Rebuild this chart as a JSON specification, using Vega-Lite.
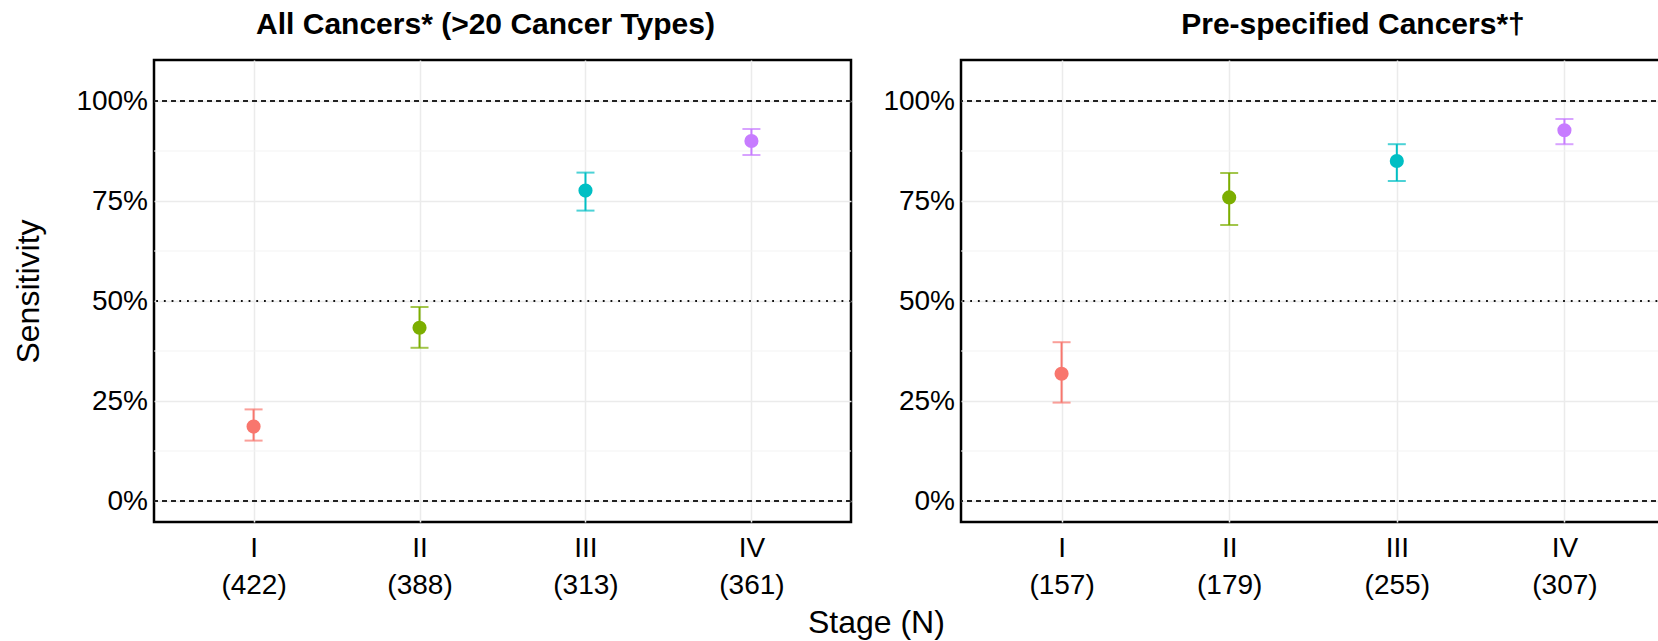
{
  "$schema": "https://vega.github.io/schema/vega-lite/v6.json",
  "padding": {"left": 11, "top": 8, "right": 0, "bottom": 0},
  "background": "white",
  "datasets": {
    "points": [
      {"panel": "all", "stage": "I", "label": "I (422)", "sens": 0.186, "lo": 0.151, "hi": 0.229},
      {"panel": "all", "stage": "II", "label": "II (388)", "sens": 0.433, "lo": 0.383, "hi": 0.485},
      {"panel": "all", "stage": "III", "label": "III (313)", "sens": 0.776, "lo": 0.726, "hi": 0.821},
      {"panel": "all", "stage": "IV", "label": "IV (361)", "sens": 0.900, "lo": 0.865, "hi": 0.930},
      {"panel": "pre", "stage": "I", "label": "I (157)", "sens": 0.318, "lo": 0.246, "hi": 0.397},
      {"panel": "pre", "stage": "II", "label": "II (179)", "sens": 0.759, "lo": 0.690, "hi": 0.820},
      {"panel": "pre", "stage": "III", "label": "III (255)", "sens": 0.850, "lo": 0.800, "hi": 0.892},
      {"panel": "pre", "stage": "IV", "label": "IV (307)", "sens": 0.927, "lo": 0.892, "hi": 0.955}
    ],
    "dashed": [{"y": 0}, {"y": 1}],
    "dotted": [{"y": 0.5}],
    "minor": [{"y": 0.125}, {"y": 0.375}, {"y": 0.625}, {"y": 0.875}]
  },
  "config": {
    "view": {"stroke": "black", "strokeWidth": 2.5},
    "font": "Liberation Sans",
    "axis": {
      "labelFont": "Liberation Sans",
      "labelColor": "black",
      "labelFontSize": 28,
      "ticks": false,
      "domain": false,
      "gridColor": "#EBEBEB",
      "gridWidth": 1.5,
      "titleFont": "Liberation Sans",
      "titleFontSize": 32,
      "titleFontWeight": "normal",
      "titleColor": "black"
    }
  },
  "title": {
    "text": "Stage (N)",
    "orient": "bottom",
    "anchor": "middle",
    "font": "Liberation Sans",
    "fontSize": 32,
    "fontWeight": "normal",
    "color": "black",
    "dx": 37,
    "offset": 8
  },
  "spacing": 27,
  "hconcat": [
    {
      "width": 697,
      "height": 462,
      "title": {"text": "All Cancers* (>20 Cancer Types)", "fontSize": 30, "fontWeight": "bold", "font": "Liberation Sans", "anchor": "middle", "frame": "group", "dx": -17, "offset": 20, "color": "black"},
      "layer": [
        {
          "data": {"name": "minor"},
          "mark": {"type": "rule", "color": "#F3F3F3", "strokeWidth": 1},
          "encoding": {"y": {"field": "y", "type": "quantitative", "scale": {"domain": [-0.0525, 1.1025], "nice": false, "zero": false},
            "axis": {"title": "Sensitivity", "values": [0, 0.25, 0.5, 0.75, 1], "format": ".0%", "grid": true, "labelPadding": 6.5, "titlePadding": 30}}}
        },
        {
          "data": {"name": "points"},
          "transform": [{"filter": "datum.panel == 'all'"}],
          "mark": {"type": "rule", "strokeWidth": 2},
          "encoding": {
            "x": {"field": "label", "type": "nominal", "sort": null, "scale": {"type": "point", "padding": 0.6},
                  "axis": {"title": null, "grid": true, "labelAngle": 0, "labelExpr": "split(datum.label, ' ')", "labelLineHeight": 37, "labelPadding": 12, "labelBaseline": "top"}},
            "y": {"field": "lo", "type": "quantitative", "title": "Sensitivity"},
            "y2": {"field": "hi"},
            "color": {"field": "stage", "type": "nominal", "scale": {"domain": ["I", "II", "III", "IV"], "range": ["#F8766D", "#7CAE00", "#00BFC4", "#C77CFF"]}, "legend": null}
          }
        },
        {
          "data": {"name": "points"},
          "transform": [{"filter": "datum.panel == 'all'"}],
          "mark": {"type": "tick", "orient": "horizontal", "size": 18, "thickness": 2},
          "encoding": {
            "x": {"field": "label", "type": "nominal", "sort": null},
            "y": {"field": "lo", "type": "quantitative", "title": "Sensitivity"},
            "color": {"field": "stage", "type": "nominal", "legend": null}
          }
        },
        {
          "data": {"name": "points"},
          "transform": [{"filter": "datum.panel == 'all'"}],
          "mark": {"type": "tick", "orient": "horizontal", "size": 18, "thickness": 2},
          "encoding": {
            "x": {"field": "label", "type": "nominal", "sort": null},
            "y": {"field": "hi", "type": "quantitative", "title": "Sensitivity"},
            "color": {"field": "stage", "type": "nominal", "legend": null}
          }
        },
        {
          "data": {"name": "points"},
          "transform": [{"filter": "datum.panel == 'all'"}],
          "mark": {"type": "circle", "size": 200, "opacity": 1},
          "encoding": {
            "x": {"field": "label", "type": "nominal", "sort": null},
            "y": {"field": "sens", "type": "quantitative", "title": "Sensitivity"},
            "color": {"field": "stage", "type": "nominal", "legend": null}
          }
        },
        {
          "data": {"name": "dashed"},
          "mark": {"type": "rule", "color": "#222222", "strokeWidth": 1.8, "strokeDash": [5, 4]},
          "encoding": {"y": {"field": "y", "type": "quantitative", "title": "Sensitivity"}}
        },
        {
          "data": {"name": "dotted"},
          "mark": {"type": "rule", "color": "#111111", "strokeWidth": 1.8, "strokeDash": [1.8, 5.9]},
          "encoding": {"y": {"field": "y", "type": "quantitative", "title": "Sensitivity"}}
        }
      ]
    },
    {
      "width": 704,
      "height": 462,
      "title": {"text": "Pre-specified Cancers*†", "fontSize": 30, "fontWeight": "bold", "font": "Liberation Sans", "anchor": "middle", "frame": "group", "dx": 40, "offset": 20, "color": "black"},
      "layer": [
        {
          "data": {"name": "minor"},
          "mark": {"type": "rule", "color": "#F3F3F3", "strokeWidth": 1},
          "encoding": {"y": {"field": "y", "type": "quantitative", "scale": {"domain": [-0.0525, 1.1025], "nice": false, "zero": false},
            "axis": {"title": null, "values": [0, 0.25, 0.5, 0.75, 1], "format": ".0%", "grid": true, "labelPadding": 6.5}}}
        },
        {
          "data": {"name": "points"},
          "transform": [{"filter": "datum.panel == 'pre'"}],
          "mark": {"type": "rule", "strokeWidth": 2},
          "encoding": {
            "x": {"field": "label", "type": "nominal", "sort": null, "scale": {"type": "point", "padding": 0.6},
                  "axis": {"title": null, "grid": true, "labelAngle": 0, "labelExpr": "split(datum.label, ' ')", "labelLineHeight": 37, "labelPadding": 12, "labelBaseline": "top"}},
            "y": {"field": "lo", "type": "quantitative"},
            "y2": {"field": "hi"},
            "color": {"field": "stage", "type": "nominal", "scale": {"domain": ["I", "II", "III", "IV"], "range": ["#F8766D", "#7CAE00", "#00BFC4", "#C77CFF"]}, "legend": null}
          }
        },
        {
          "data": {"name": "points"},
          "transform": [{"filter": "datum.panel == 'pre'"}],
          "mark": {"type": "tick", "orient": "horizontal", "size": 18, "thickness": 2},
          "encoding": {
            "x": {"field": "label", "type": "nominal", "sort": null},
            "y": {"field": "lo", "type": "quantitative"},
            "color": {"field": "stage", "type": "nominal", "legend": null}
          }
        },
        {
          "data": {"name": "points"},
          "transform": [{"filter": "datum.panel == 'pre'"}],
          "mark": {"type": "tick", "orient": "horizontal", "size": 18, "thickness": 2},
          "encoding": {
            "x": {"field": "label", "type": "nominal", "sort": null},
            "y": {"field": "hi", "type": "quantitative"},
            "color": {"field": "stage", "type": "nominal", "legend": null}
          }
        },
        {
          "data": {"name": "points"},
          "transform": [{"filter": "datum.panel == 'pre'"}],
          "mark": {"type": "circle", "size": 200, "opacity": 1},
          "encoding": {
            "x": {"field": "label", "type": "nominal", "sort": null},
            "y": {"field": "sens", "type": "quantitative"},
            "color": {"field": "stage", "type": "nominal", "legend": null}
          }
        },
        {
          "data": {"name": "dashed"},
          "mark": {"type": "rule", "color": "#222222", "strokeWidth": 1.8, "strokeDash": [5, 4]},
          "encoding": {"y": {"field": "y", "type": "quantitative"}}
        },
        {
          "data": {"name": "dotted"},
          "mark": {"type": "rule", "color": "#111111", "strokeWidth": 1.8, "strokeDash": [1.8, 5.9]},
          "encoding": {"y": {"field": "y", "type": "quantitative"}}
        }
      ]
    }
  ]
}
